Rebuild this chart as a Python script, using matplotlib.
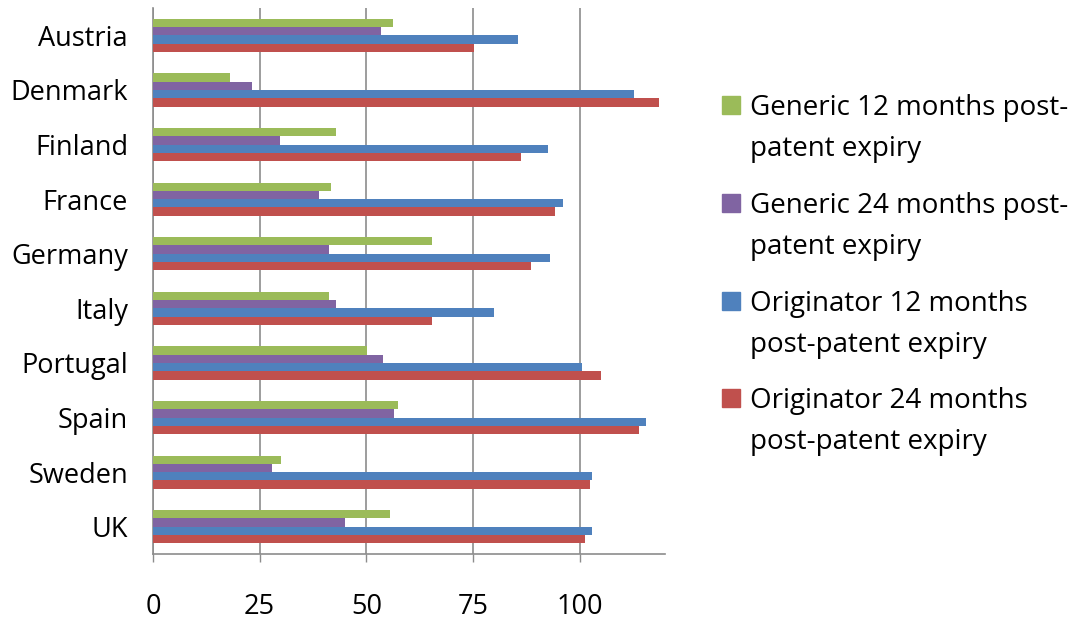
import numpy as np
import matplotlib
matplotlib.use("Agg")
import matplotlib.pyplot as plt
from matplotlib.patches import Rectangle

countries = ["Austria", "Denmark", "Finland", "France", "Germany",
             "Italy", "Portugal", "Spain", "Sweden", "UK"]

generic_12 = [56.2, 18.1, 42.8, 41.7, 65.4, 41.2, 50.2, 57.4, 30.1, 55.5]
generic_24 = [53.4, 23.3, 29.7, 38.8, 41.2, 42.8, 53.9, 56.6, 27.8, 45.1]
originator_12 = [85.6, 112.8, 92.6, 96.1, 93.1, 79.9, 100.6, 115.6, 102.9, 102.9]
originator_24 = [75.2, 118.7, 86.2, 94.3, 88.6, 65.4, 104.9, 114.0, 102.5, 101.3]

series_labels = ["Generic 12 months post-\npatent expiry",
                 "Generic 24 months post-\npatent expiry",
                 "Originator 12 months\npost-patent expiry",
                 "Originator 24 months\npost-patent expiry"]
colors = ["#9BBB59", "#8064A2", "#4F81BD", "#C0504D"]
xticks = [0, 25, 50, 75, 100]

plt.rcParams["font.family"] = ["Open Sans", "DejaVu Sans"]

W, H = 1083, 622
fig = plt.figure(figsize=(W / 100, H / 100), dpi=100)
ax = fig.add_axes([0.1413, 0.1093, 0.4727, 0.8778])

y = np.arange(len(countries))
bar_h = 0.152
series = [generic_12, generic_24, originator_12, originator_24]
for k, (vals, col) in enumerate(zip(series, colors)):
    ax.barh(y + (k - 1.5) * bar_h, vals, height=bar_h, color=col, zorder=3)

ax.set_xlim(0, 120)
ax.set_ylim(len(countries) - 0.5, -0.5)
ax.set_yticks(y)
ax.set_yticklabels(countries, fontsize=19.5)
ax.set_xticks(xticks)
ax.set_xticklabels([str(t) for t in xticks], fontsize=19.5)

ax.xaxis.grid(True, color="#8c8c8c", linewidth=1.2, zorder=0)
ax.tick_params(axis="y", length=0, pad=18)
ax.tick_params(axis="x", length=6, width=1, color="#8c8c8c", pad=22)

for side in ["top", "right"]:
    ax.spines[side].set_visible(False)
for side in ["left", "bottom"]:
    ax.spines[side].set_color("#8c8c8c")
    ax.spines[side].set_linewidth(1.2)

# legend drawn by hand: square swatch next to the first line of each label
entry_top = [96, 194, 292, 389]   # pixel rows from the top
for top, col, lab in zip(entry_top, colors, series_labels):
    fig.patches.append(Rectangle((722 / W, 1 - (top + 18) / H), 18 / W, 18 / H,
                                 transform=fig.transFigure, color=col))
    fig.text(750 / W, 1 - (top - 2) / H, lab, fontsize=20, va="top",
             ha="left", linespacing=1.62)

fig.savefig("out.png", dpi=100)
